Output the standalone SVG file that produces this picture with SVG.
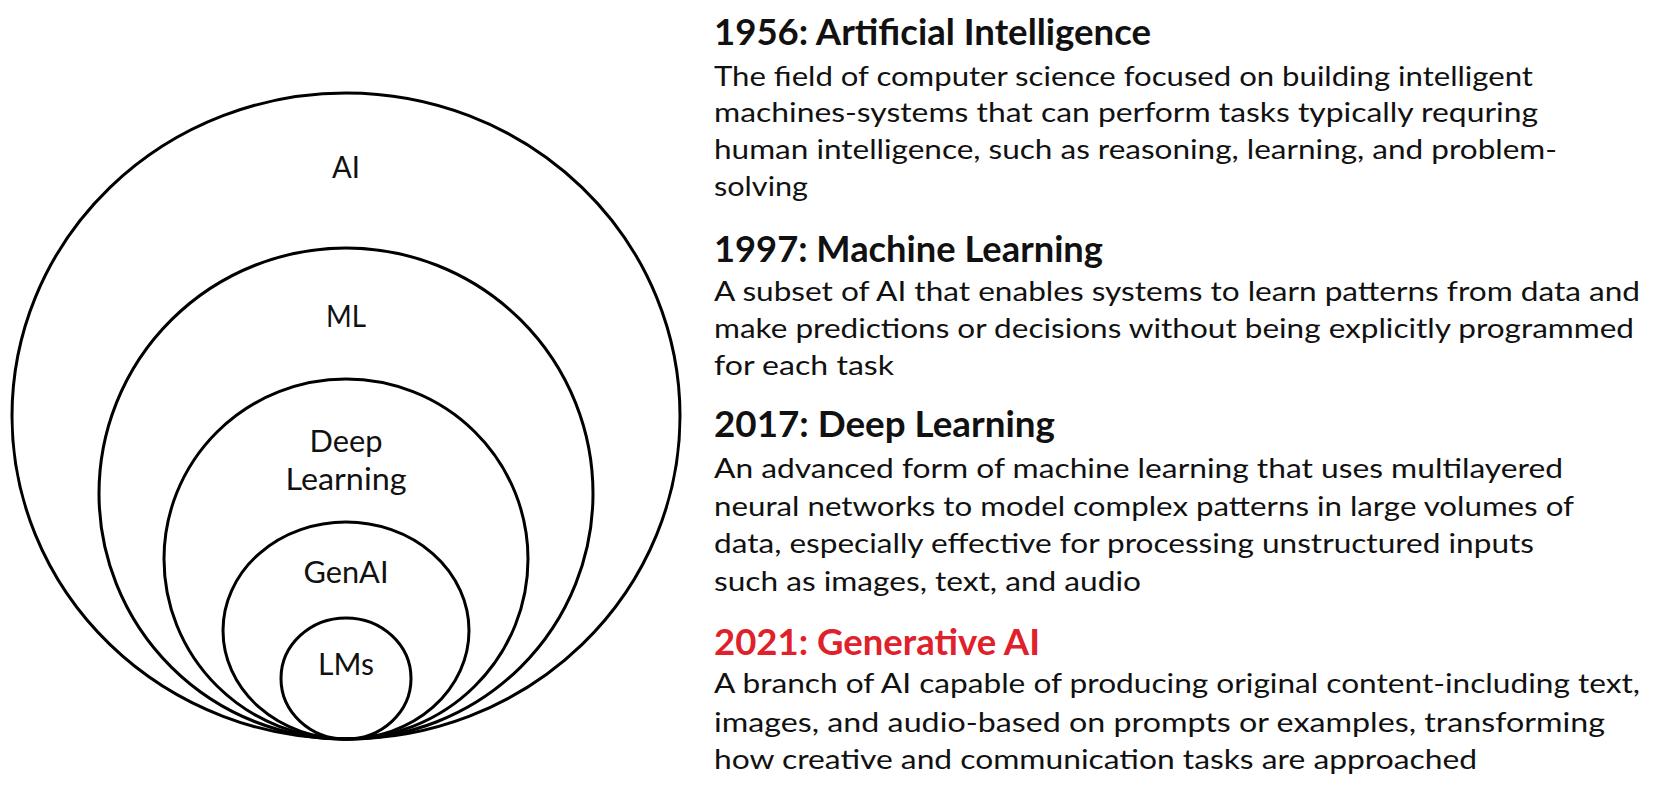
<svg xmlns="http://www.w3.org/2000/svg" width="1655" height="788" viewBox="0 0 1655 788">
<style>
.ring{fill:none;stroke:#000;stroke-width:3}
.lbl{font-family:Lato,"Liberation Sans",sans-serif;font-size:30px;fill:#111;text-anchor:middle}
.ttl{font-family:Lato,"Liberation Sans",sans-serif;font-size:36px;font-weight:bold;fill:#111}
.red{fill:#E0202A}
.body{font-family:Lato,"Liberation Sans",sans-serif;font-size:27px;fill:#111}
</style>
<rect width="1655" height="788" fill="#fff"/>
<g id="node-ai">
<ellipse class="ring" cx="346" cy="416" rx="334" ry="323"/>
<text class="lbl" x="346" y="178" textLength="28" lengthAdjust="spacingAndGlyphs">AI</text>
</g>
<g id="node-ml">
<ellipse class="ring" cx="346" cy="493.5" rx="247" ry="245.5"/>
<text class="lbl" x="346" y="327" textLength="40" lengthAdjust="spacingAndGlyphs">ML</text>
</g>
<g id="node-dl">
<ellipse class="ring" cx="346" cy="559" rx="182" ry="180"/>
<text class="lbl" x="346" y="452" textLength="73" lengthAdjust="spacingAndGlyphs">Deep</text>
<text class="lbl" x="346" y="489.5" textLength="121" lengthAdjust="spacingAndGlyphs">Learning</text>
</g>
<g id="node-genai">
<ellipse class="ring" cx="346" cy="630.5" rx="123" ry="108.5"/>
<text class="lbl" x="346" y="582.5" textLength="85" lengthAdjust="spacingAndGlyphs">GenAI</text>
</g>
<g id="node-lms">
<ellipse class="ring" cx="346" cy="678.5" rx="65" ry="60.5"/>
<text class="lbl" x="346" y="675" textLength="56" lengthAdjust="spacingAndGlyphs">LMs</text>
</g>
<g id="connectors"></g>
<g id="desc-ai">
<text class="ttl" x="714" y="45" textLength="437" lengthAdjust="spacingAndGlyphs">1956: Artificial Intelligence</text>
<text class="body" x="714" y="86" textLength="819" lengthAdjust="spacingAndGlyphs">The field of computer science focused on building intelligent</text>
<text class="body" x="714" y="122" textLength="824" lengthAdjust="spacingAndGlyphs">machines-systems that can perform tasks typically requring</text>
<text class="body" x="714" y="159" textLength="843" lengthAdjust="spacingAndGlyphs">human intelligence, such as reasoning, learning, and problem-</text>
<text class="body" x="714" y="196" textLength="94" lengthAdjust="spacingAndGlyphs">solving</text>
</g>
<g id="desc-ml">
<text class="ttl" x="714" y="262" textLength="389" lengthAdjust="spacingAndGlyphs">1997: Machine Learning</text>
<text class="body" x="714" y="301" textLength="926" lengthAdjust="spacingAndGlyphs">A subset of AI that enables systems to learn patterns from data and</text>
<text class="body" x="714" y="338" textLength="920" lengthAdjust="spacingAndGlyphs">make predictions or decisions without being explicitly programmed</text>
<text class="body" x="714" y="375" textLength="180" lengthAdjust="spacingAndGlyphs">for each task</text>
</g>
<g id="desc-dl">
<text class="ttl" x="714" y="437" textLength="341" lengthAdjust="spacingAndGlyphs">2017: Deep Learning</text>
<text class="body" x="714" y="478" textLength="849" lengthAdjust="spacingAndGlyphs">An advanced form of machine learning that uses multilayered</text>
<text class="body" x="714" y="516" textLength="860" lengthAdjust="spacingAndGlyphs">neural networks to model complex patterns in large volumes of</text>
<text class="body" x="714" y="553" textLength="820" lengthAdjust="spacingAndGlyphs">data, especially effective for processing unstructured inputs</text>
<text class="body" x="714" y="591" textLength="427" lengthAdjust="spacingAndGlyphs">such as images, text, and audio</text>
</g>
<g id="desc-genai">
<text class="ttl red" x="714" y="654.5" textLength="326" lengthAdjust="spacingAndGlyphs">2021: Generative AI</text>
<text class="body" x="714" y="693" textLength="926" lengthAdjust="spacingAndGlyphs">A branch of AI capable of producing original content-including text,</text>
<text class="body" x="714" y="732" textLength="891" lengthAdjust="spacingAndGlyphs">images, and audio-based on prompts or examples, transforming</text>
<text class="body" x="714" y="769" textLength="763" lengthAdjust="spacingAndGlyphs">how creative and communication tasks are approached</text>
</g>
</svg>
